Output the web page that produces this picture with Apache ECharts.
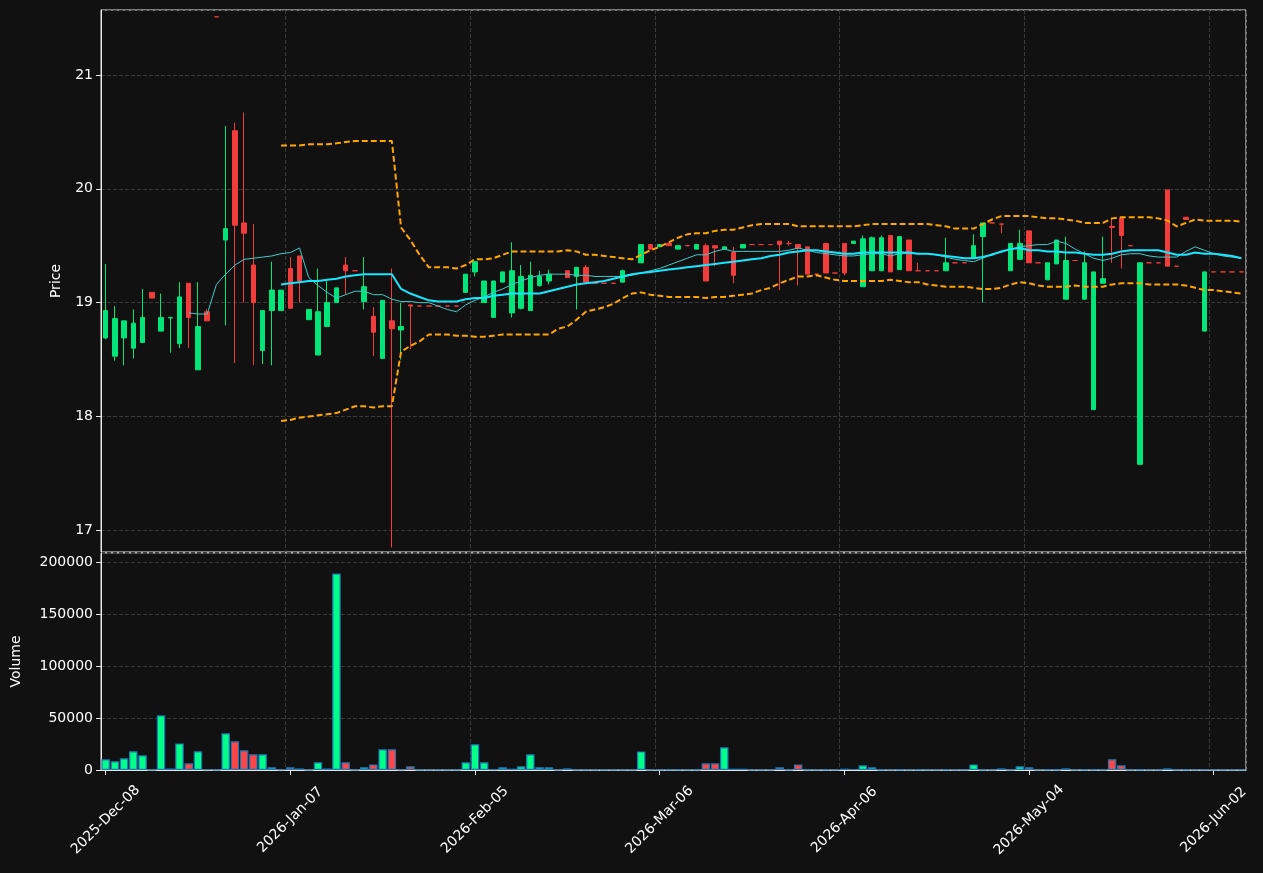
<!doctype html>
<html>
<head>
<meta charset="utf-8" />
<title>Price / Volume</title>
<script src="https://cdn.jsdelivr.net/npm/echarts@6/dist/echarts.min.js"></script>
<style>
  html, body { margin: 0; padding: 0; background: #111111; }
  #main { width: 1263px; height: 873px; }
</style>
</head>
<body>
<div id="main"></div>
<script>
// trading days, US holidays removed
var holidays = ['2025-12-25', '2026-01-01', '2026-01-19', '2026-02-16', '2026-04-03', '2026-05-25'];
var months = ['Jan','Feb','Mar','Apr','May','Jun','Jul','Aug','Sep','Oct','Nov','Dec'];
var dates = [];
(function () {
  var d = new Date(Date.UTC(2025, 11, 8));
  while (dates.length < 124) {
    var iso = d.toISOString().slice(0, 10);
    var wd = d.getUTCDay();
    if (wd !== 0 && wd !== 6 && holidays.indexOf(iso) < 0) {
      dates.push(d.getUTCFullYear() + '-' + months[d.getUTCMonth()] + '-' + ('0' + d.getUTCDate()).slice(-2));
    }
    d.setUTCDate(d.getUTCDate() + 1);
  }
})();

// [open, close, low, high], null = no bar
var candles = [
  [18.69,18.93,18.68,19.34],[18.53,18.86,18.49,18.97],[18.69,18.84,18.45,18.84],[18.60,18.82,18.51,18.94],
  [18.65,18.87,18.65,19.12],[19.09,19.04,19.04,19.09],[18.75,18.87,18.75,19.08],[18.865,18.87,18.56,18.87],
  [18.64,19.05,18.60,19.18],[19.17,18.87,18.60,19.17],[18.41,18.79,18.41,19.18],[18.92,18.84,18.84,18.94],
  [21.51,21.51,21.51,21.51],[19.55,19.65,18.80,20.55],[20.51,19.68,18.47,20.58],[19.70,19.61,19.00,20.67],
  [19.33,19.00,18.45,19.69],[18.58,18.93,18.46,18.93],[18.93,19.11,18.45,19.36],[18.93,19.11,18.93,19.11],
  [19.30,18.95,18.95,19.40],[19.41,19.19,19.00,19.41],[18.85,18.94,18.85,18.94],[18.54,18.92,18.54,19.30],
  [18.79,19.00,18.79,19.20],[19.00,19.13,19.00,19.13],[19.33,19.28,19.07,19.40],[19.28,19.28,19.28,19.28],
  [19.01,19.14,18.94,19.40],[18.88,18.74,18.53,18.96],[18.51,19.02,18.51,19.02],[18.84,18.77,16.85,19.30],
  [18.76,18.79,18.50,19.00],[18.98,18.97,18.59,18.98],[18.97,18.97,18.97,18.97],[18.97,18.97,18.97,18.97],
  [18.97,18.97,18.97,18.97],[18.97,18.97,18.97,18.97],[18.97,18.97,18.97,18.97],[19.09,19.25,19.09,19.25],
  [19.27,19.36,19.23,19.36],[19.00,19.19,19.00,19.19],[18.87,19.19,18.87,19.19],[19.18,19.27,19.18,19.27],
  [18.91,19.28,18.87,19.53],[18.95,19.23,18.94,19.33],[18.93,19.24,18.93,19.36],[19.15,19.23,19.14,19.28],
  [19.19,19.25,19.16,19.29],null,[19.28,19.22,19.22,19.28],[19.23,19.31,18.94,19.31],
  [19.31,19.18,19.18,19.33],[19.17,19.17,19.17,19.17],[19.17,19.17,19.17,19.17],[19.17,19.17,19.17,19.17],
  [19.18,19.28,19.18,19.29],null,[19.35,19.51,19.35,19.51],[19.51,19.47,19.47,19.51],
  [19.49,19.51,19.49,19.51],[19.52,19.50,19.50,19.52],[19.47,19.50,19.47,19.50],[19.50,19.50,19.50,19.50],
  [19.47,19.51,19.47,19.51],[19.50,19.19,19.19,19.52],[19.50,19.48,19.32,19.50],[19.47,19.49,19.47,19.49],
  [19.44,19.24,19.17,19.49],[19.48,19.51,19.48,19.51],[19.51,19.51,19.51,19.51],[19.51,19.51,19.51,19.51],
  [19.51,19.51,19.51,19.51],[19.54,19.51,19.11,19.54],[19.52,19.52,19.50,19.54],[19.51,19.48,19.15,19.51],
  [19.49,19.25,19.25,19.49],[19.25,19.25,19.25,19.25],[19.52,19.26,19.26,19.52],[19.26,19.26,19.26,19.26],
  [19.52,19.26,19.24,19.52],[19.52,19.54,19.52,19.54],[19.14,19.56,19.14,19.59],[19.28,19.57,19.28,19.58],
  [19.28,19.57,19.28,19.59],[19.59,19.27,19.27,19.59],[19.29,19.58,19.29,19.58],[19.55,19.28,19.28,19.55],
  [19.28,19.28,19.28,19.35],[19.28,19.28,19.28,19.28],[19.28,19.28,19.28,19.28],[19.28,19.35,19.28,19.57],
  [19.35,19.35,19.35,19.35],[19.35,19.35,19.35,19.35],[19.39,19.50,19.39,19.60],[19.58,19.70,19.00,19.70],
  [19.70,19.70,19.70,19.70],[19.69,19.69,19.61,19.69],[19.28,19.52,19.28,19.52],[19.38,19.52,19.38,19.64],
  [19.63,19.35,19.35,19.63],[19.35,19.35,19.35,19.35],[19.20,19.35,19.20,19.35],[19.34,19.55,19.34,19.55],
  [19.03,19.37,19.03,19.58],[19.37,19.37,19.37,19.37],[19.03,19.35,19.03,19.45],[18.06,19.27,18.06,19.27],
  [19.17,19.21,19.17,19.58],[19.67,19.66,19.35,19.74],[19.74,19.59,19.30,19.74],[19.50,19.50,19.50,19.50],
  [17.58,19.35,17.58,19.35],[19.35,19.35,19.35,19.35],[19.35,19.35,19.35,19.35],[19.99,19.32,19.32,19.99],
  [19.32,19.32,19.32,19.32],[19.75,19.73,19.73,19.75],null,[18.75,19.27,18.75,19.27],
  [19.27,19.27,19.27,19.27],[19.27,19.27,19.27,19.27],[19.27,19.27,19.27,19.27],[19.27,19.27,19.27,19.27]
];

var volumes = [
  10300,8400,11200,18000,14100,0,52600,1500,25600,6400,18000,500,0,35300,27600,18900,15100,15100,2600,500,
  2600,1500,0,7400,1500,189000,7400,0,2600,5400,19900,19900,500,3500,0,0,0,0,0,7400,
  24700,7400,600,2600,1300,3500,15100,2600,2600,0,1600,0,0,0,0,0,0,0,17900,0,
  0,300,300,0,300,6400,6400,21800,1300,1300,0,0,0,2600,300,5400,300,0,300,0,
  1300,1000,4500,2600,300,0,300,0,300,0,0,300,0,0,5400,300,0,1600,0,3500,
  2600,0,300,300,1600,0,300,300,300,10300,4500,0,300,0,0,1600,0,300,0,0,
  0,0,0,0
];

var N = null;
var maSlow = [N,N,N,N,N,N,N,N,N,N,N,N,N,N,N,N,N,N,N,
  19.16,19.17,19.18,19.19,19.19,19.20,19.21,19.23,19.24,19.25,19.25,19.25,19.25,19.12,19.08,19.05,19.02,19.01,19.01,19.01,
  19.03,19.04,19.04,19.06,19.07,19.08,19.08,19.08,19.08,19.10,19.12,19.14,19.16,19.17,19.18,19.19,19.21,19.23,19.25,19.26,
  19.27,19.28,19.29,19.30,19.31,19.32,19.33,19.34,19.35,19.36,19.37,19.38,19.39,19.41,19.42,19.44,19.45,19.46,19.46,19.45,
  19.44,19.43,19.43,19.44,19.44,19.44,19.44,19.44,19.44,19.43,19.43,19.42,19.41,19.40,19.39,19.39,19.40,19.42,19.45,19.47,
  19.48,19.46,19.46,19.45,19.45,19.44,19.44,19.43,19.42,19.42,19.43,19.45,19.46,19.46,19.46,19.46,19.44,19.42,19.42,19.44,
  19.43,19.43,19.42,19.41,19.39];

var maFast = [N,N,N,N,N,N,N,N,N,
  18.91,18.90,18.90,19.16,19.25,19.33,19.38,19.39,19.40,19.41,19.43,19.44,19.48,19.22,19.15,19.09,19.04,19.07,19.10,19.10,
  19.07,19.07,19.03,19.01,19.01,19.00,19.00,18.97,18.94,18.92,18.98,19.02,19.05,19.09,19.12,19.16,19.19,19.22,19.24,19.25,
  19.25,19.25,19.24,19.24,19.23,19.23,19.23,19.23,19.24,19.26,19.28,19.30,19.33,19.36,19.39,19.42,19.42,19.45,19.47,19.45,
  19.45,19.45,19.45,19.45,19.45,19.46,19.48,19.46,19.44,19.43,19.42,19.41,19.41,19.42,19.43,19.43,19.41,19.43,19.43,19.43,
  19.43,19.42,19.40,19.38,19.37,19.36,19.39,19.43,19.44,19.47,19.49,19.50,19.51,19.51,19.54,19.52,19.47,19.43,19.39,19.37,
  19.39,19.42,19.43,19.43,19.41,19.40,19.40,19.40,19.45,19.49,19.46,19.43,19.41,19.40,19.39];

var bbUpper = [N,N,N,N,N,N,N,N,N,N,N,N,N,N,N,N,N,N,N,
  20.38,20.38,20.38,20.39,20.39,20.39,20.40,20.41,20.42,20.42,20.42,20.42,20.42,19.66,19.55,19.42,19.31,19.31,19.31,19.30,
  19.33,19.38,19.38,19.39,19.42,19.45,19.45,19.45,19.45,19.45,19.45,19.46,19.45,19.42,19.42,19.41,19.40,19.39,19.38,19.42,
  19.46,19.49,19.53,19.57,19.60,19.61,19.61,19.63,19.64,19.64,19.66,19.68,19.69,19.69,19.69,19.69,19.67,19.67,19.67,19.67,
  19.67,19.67,19.67,19.68,19.69,19.69,19.69,19.69,19.69,19.69,19.69,19.68,19.67,19.65,19.65,19.65,19.69,19.73,19.76,19.76,
  19.76,19.76,19.75,19.74,19.74,19.73,19.72,19.70,19.70,19.70,19.74,19.75,19.75,19.75,19.75,19.74,19.72,19.67,19.70,19.73,
  19.72,19.72,19.72,19.72,19.71];

var bbLower = [N,N,N,N,N,N,N,N,N,N,N,N,N,N,N,N,N,N,N,
  17.96,17.97,17.99,18.00,18.01,18.02,18.03,18.06,18.09,18.09,18.08,18.09,18.09,18.57,18.62,18.66,18.72,18.72,18.72,18.71,
  18.71,18.70,18.70,18.71,18.72,18.72,18.72,18.72,18.72,18.72,18.77,18.79,18.85,18.92,18.94,18.96,18.99,19.04,19.08,19.09,
  19.07,19.06,19.05,19.05,19.05,19.05,19.04,19.05,19.05,19.06,19.07,19.08,19.11,19.13,19.17,19.20,19.23,19.23,19.24,19.22,
  19.20,19.19,19.19,19.19,19.19,19.19,19.20,19.19,19.18,19.18,19.16,19.15,19.14,19.14,19.14,19.13,19.12,19.12,19.13,19.16,
  19.18,19.17,19.15,19.14,19.14,19.14,19.15,19.14,19.14,19.14,19.16,19.17,19.17,19.17,19.16,19.16,19.16,19.16,19.15,19.13,
  19.11,19.11,19.10,19.09,19.08];

var UP = '#00e57a', DOWN = '#f23c3c';
var VUP = '#00ff88', VDOWN = '#ff4545';

function isDown(c, i) {
  if (c[1] < c[0]) return true;
  if (c[1] > c[0]) return false;
  return i !== 7;
}

var candleData = candles.map(function (c, i) {
  if (!c) return '-';
  var col = isDown(c, i) ? DOWN : UP;
  return { value: c, itemStyle: { color: col, color0: col, borderColor: col, borderColor0: col } };
});

var volData = volumes.map(function (v, i) {
  var c = candles[i];
  var down = c ? isDown(c, i) : false;
  return { value: v, itemStyle: { color: down ? VDOWN : VUP } };
});

var chart = echarts.init(document.getElementById('main'));
var axisTxt = { color: '#ffffff', fontSize: 14, fontFamily: 'DejaVu Sans', showMinLabel: false, showMaxLabel: false };
var split = { show: true, lineStyle: { color: '#3a3a3a', type: 'dashed', width: 1 } };
var every20 = function (i) { return i % 20 === 0; };

chart.setOption({
  backgroundColor: '#111111',
  animation: false,
  grid: [
    { left: 101, right: 17, top: 10, height: 542, show: true, borderColor: '#e8e8e8', borderWidth: 1, backgroundColor: '#111111' },
    { left: 101, right: 17, top: 553, height: 217, show: true, borderColor: '#e8e8e8', borderWidth: 1, backgroundColor: '#111111' }
  ],
  xAxis: [
    {
      type: 'category', gridIndex: 0, data: dates, boundaryGap: true,
      axisLine: { show: false }, axisTick: { show: false }, axisLabel: { show: false },
      splitLine: { show: true, interval: every20, lineStyle: split.lineStyle }
    },
    {
      type: 'category', gridIndex: 1, data: dates, boundaryGap: true,
      axisLine: { show: true, lineStyle: { color: '#e8e8e8' } },
      axisTick: { show: true, alignWithLabel: true, interval: every20, length: 5, lineStyle: { color: '#e8e8e8' } },
      axisLabel: {
        show: true, rotate: 45, interval: every20, color: '#ffffff', fontSize: 14, fontFamily: 'DejaVu Sans',
        margin: 50, align: 'center', verticalAlign: 'middle'
      },
      splitLine: { show: true, interval: every20, lineStyle: split.lineStyle }
    }
  ],
  yAxis: [
    {
      type: 'value', gridIndex: 0, min: 16.81, max: 21.57, splitNumber: 5, scale: true,
      name: 'Price', nameLocation: 'middle', nameGap: 38, nameTextStyle: { color: '#ffffff', fontSize: 14, fontFamily: 'DejaVu Sans' },
      axisLine: { show: true, lineStyle: { color: '#e8e8e8' } },
      axisTick: { show: true, length: 5, lineStyle: { color: '#e8e8e8' } },
      axisLabel: axisTxt, splitLine: split
    },
    {
      type: 'value', gridIndex: 1, min: 0, max: 208700, splitNumber: 4,
      name: 'Volume', nameLocation: 'middle', nameGap: 78, nameTextStyle: { color: '#ffffff', fontSize: 14, fontFamily: 'DejaVu Sans' },
      axisLine: { show: true, lineStyle: { color: '#e8e8e8' } },
      axisTick: { show: true, length: 5, lineStyle: { color: '#e8e8e8' } },
      axisLabel: { color: '#ffffff', fontSize: 14, fontFamily: 'DejaVu Sans', showMaxLabel: false, formatter: function (v) { return String(v); } },
      splitLine: split
    }
  ],
  series: [
    {
      name: 'Candles', type: 'candlestick', xAxisIndex: 0, yAxisIndex: 0,
      barWidth: 5, data: candleData,
      itemStyle: { color: UP, color0: DOWN, borderColor: UP, borderColor0: DOWN, borderWidth: 1 }
    },
    {
      name: 'BB upper', type: 'line', xAxisIndex: 0, yAxisIndex: 0, data: bbUpper,
      symbol: 'none', lineStyle: { color: '#ffa500', width: 2, type: [6, 3] }
    },
    {
      name: 'BB lower', type: 'line', xAxisIndex: 0, yAxisIndex: 0, data: bbLower,
      symbol: 'none', lineStyle: { color: '#ffa500', width: 2, type: [6, 3] }
    },
    {
      name: 'MA fast', type: 'line', xAxisIndex: 0, yAxisIndex: 0, data: maFast,
      symbol: 'none', lineStyle: { color: '#46c8c8', width: 1 }
    },
    {
      name: 'MA slow', type: 'line', xAxisIndex: 0, yAxisIndex: 0, data: maSlow,
      symbol: 'none', lineStyle: { color: '#18e6ff', width: 2 }
    },
    {
      name: 'Volume', type: 'bar', xAxisIndex: 1, yAxisIndex: 1, data: volData,
      barWidth: '92%', itemStyle: { borderColor: '#1f77b4', borderWidth: 1.2 }
    }
  ]
});
</script>
</body>
</html>
